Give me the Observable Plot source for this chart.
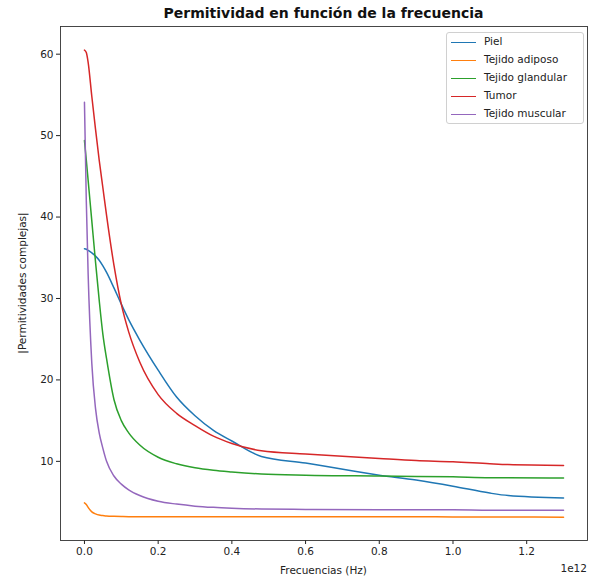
<!DOCTYPE html>
<html><head><meta charset="utf-8">
<script src="https://cdn.jsdelivr.net/npm/d3@7"></script>
<script src="https://cdn.jsdelivr.net/npm/@observablehq/plot@0.6"></script>
<style>
body{margin:0;background:#fff;font-family:"DejaVu Sans",sans-serif;color:#222;}
#wrap{position:relative;width:595px;height:582px;overflow:hidden;}
#title{position:absolute;left:60px;width:527px;top:5px;text-align:center;font-weight:bold;font-size:14px;color:#111;}
#chart{position:absolute;left:0;top:22px;}
.lab{position:absolute;font-size:10.5px;color:#222;white-space:nowrap;}
#legend{position:absolute;left:446px;top:32px;width:136px;height:90px;border:1px solid #d0d0d0;border-radius:3px;background:rgba(255,255,255,0.85);}
.lg{position:absolute;left:0;height:18px;width:136px;font-size:10.5px;}
.lg span.sw{position:absolute;left:4px;top:8px;width:25px;height:0;border-top:1.5px solid;}
.lg span.tx{position:absolute;left:37px;top:1px;}
</style></head>
<body><div id="wrap">
<div id="title">Permitividad en función de la frecuencia</div>
<div id="chart"></div>
<div id="legend"></div>
</div>
<script>
// frequency in units of 1e12 Hz
const freqs = [0, 0.005, 0.01, 0.02, 0.03, 0.04, 0.05, 0.06, 0.08, 0.1, 0.12, 0.15, 0.2, 0.25, 0.3, 0.35, 0.4, 0.48, 0.6, 0.8, 0.9, 1.0, 1.1, 1.15, 1.3];
const seriesNames = ["Piel", "Tejido adiposo", "Tejido glandular", "Tumor", "Tejido muscular"];
const piel = [36.1, 36.05, 35.9, 35.6, 35.2, 34.7, 34.0, 33.2, 31.3, 29.3, 27.4, 24.9, 21.2, 17.9, 15.6, 13.8, 12.5, 10.6, 9.8, 8.3, 7.7, 6.95, 6.1, 5.8, 5.5];
const adiposo = [4.9, 4.7, 4.35, 3.8, 3.55, 3.4, 3.35, 3.3, 3.25, 3.22, 3.2, 3.2, 3.2, 3.2, 3.2, 3.2, 3.2, 3.2, 3.2, 3.2, 3.2, 3.18, 3.17, 3.16, 3.15];
const glandular = [49.4, 47.0, 44.5, 39.5, 34.5, 29.8, 25.6, 22.6, 17.6, 15.0, 13.5, 12.0, 10.5, 9.7, 9.2, 8.9, 8.7, 8.45, 8.3, 8.2, 8.15, 8.1, 8.0, 8.0, 7.95];
const tumor = [60.5, 60.2, 59.0, 54.8, 50.8, 47.0, 43.6, 40.2, 34.1, 29.3, 25.9, 22.2, 18.2, 15.9, 14.4, 13.1, 12.2, 11.3, 10.9, 10.35, 10.1, 9.95, 9.7, 9.6, 9.5];
const muscular = [54.1, 42.0, 33.0, 22.0, 16.5, 13.5, 11.6, 10.0, 8.2, 7.2, 6.5, 5.8, 5.1, 4.75, 4.5, 4.35, 4.25, 4.15, 4.1, 4.05, 4.05, 4.05, 4.0, 4.0, 4.0];
const xTicks = [0, 0.2, 0.4, 0.6, 0.8, 1.0, 1.2];
const yTicks = [10, 20, 30, 40, 50, 60];

const palette = ["#1f77b4", "#ff7f0e", "#2ca02c", "#d62728", "#9467bd"];
const allValues = [piel, adiposo, glandular, tumor, muscular];
const rows = seriesNames.flatMap((name, i) => freqs.map((f, j) => ({series: name, f, v: allValues[i][j]})));

const chart = Plot.plot({
  width: 595, height: 560,
  marginLeft: 60, marginRight: 8, marginTop: 4, marginBottom: 42,
  style: {fontFamily: "DejaVu Sans", fontSize: "10.5px", color: "#222", background: "white"},
  x: {domain: [-0.065, 1.365], ticks: xTicks, tickFormat: d3.format(".1f"), label: null, tickSize: 4, tickPadding: 3},
  y: {domain: [0.28, 63.4], ticks: yTicks, tickFormat: d3.format("d"), label: null, tickSize: 4, tickPadding: 3},
  color: {domain: seriesNames, range: palette},
  marks: [
    Plot.line(rows, {x: "f", y: "v", z: "series", stroke: "series", strokeWidth: 1.5, curve: "monotone-x"}),
    Plot.frame({stroke: "#333", strokeWidth: 0.9})
  ]
});
document.getElementById("chart").appendChild(chart);

const wrap = document.getElementById("wrap");
function addLabel(text, css) {
  const d = document.createElement("div");
  d.className = "lab"; d.textContent = text;
  Object.assign(d.style, css);
  wrap.appendChild(d);
}
addLabel("Frecuencias (Hz)", {left: "60px", width: "527px", textAlign: "center", top: "564px"});
addLabel("1e12", {right: "8px", top: "562px"});
addLabel("|Permitividades complejas|", {left: "22px", top: "283px", transform: "translate(-50%,-50%) rotate(-90deg)"});

const legend = d3.select("#legend");
seriesNames.forEach((name, i) => {
  const e = legend.append("div").attr("class", "lg").style("top", (i * 18 + 1) + "px");
  e.append("span").attr("class", "sw").style("border-color", palette[i]);
  e.append("span").attr("class", "tx").text(name);
});
</script>
</body></html>
